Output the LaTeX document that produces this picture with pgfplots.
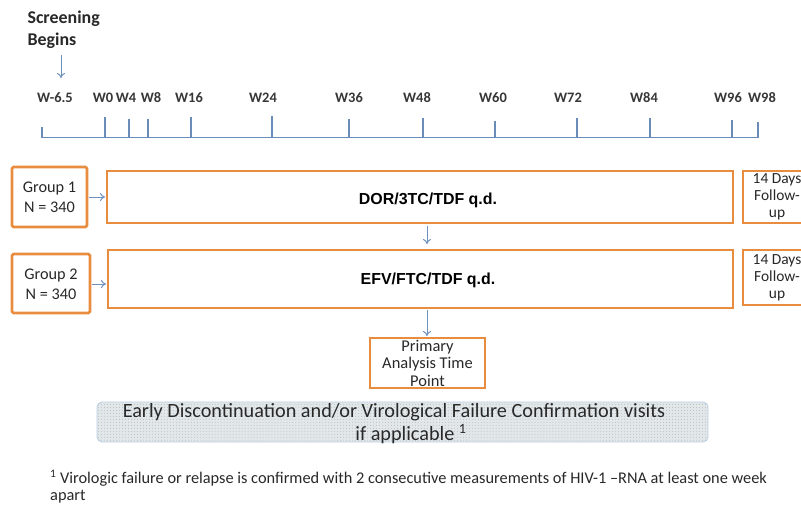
\documentclass[border=0pt]{standalone}
\usepackage{pgfplots}
\pgfplotsset{compat=1.18}
\usepackage{pgfplotstable}
\usepackage{fontspec}
\setmainfont{Carlito}
\newfontfamily\arialf{Liberation Sans}
\usetikzlibrary{arrows.meta,patterns}
\definecolor{boxor}{RGB}{232,140,64}
\definecolor{tline}{RGB}{105,140,185}
\definecolor{arr}{RGB}{110,145,190}
\definecolor{wlab}{RGB}{55,55,55}
\definecolor{txt}{RGB}{40,40,40}
\definecolor{dotfill}{RGB}{226,232,234}
\definecolor{dotedge}{RGB}{185,205,225}

% timeline ticks: x position (px), top of tick, length, label, label x
\pgfplotstableread{
x top len lab lx
42 127 10.5 W-6.5 55
105 117 20.5 W0 103
129 119 18.5 W4 126
148 119 18.5 W8 151
191 117 20.5 W16 189
272 116 21.5 W24 263
349 119 18.5 W36 349
423 118 19.5 W48 417
495 121 16.5 W60 493
577 118 19.5 W72 568
650 118 19.5 W84 644
732 120 17.5 W96 728
758 122 15.5 W98 762
}\ticks

\begin{document}
\begin{tikzpicture}
\begin{axis}[at={(0,0)}, anchor=south west,
  width=801bp, height=506bp, scale only axis,
  xmin=0, xmax=801, ymin=0, ymax=506, y dir=reverse,
  axis lines=none, clip=true]
% baseline of timeline
\addplot[tline, line width=1.4pt] coordinates {(42,137.5) (758,137.5)};
% ticks
\addplot[tline, line width=1.4pt, quiver={u=0, v=\thisrow{len}}] table[x=x, y=top] {\ticks};
% week labels
\addplot[draw=none, mark=none, nodes near coords, point meta=explicit symbolic,
  nodes near coords style={anchor=center, inner sep=0.5pt, text=wlab, font=\bfseries\fontsize{14.5}{16}\selectfont}]
  table[x=lx, y expr=98, meta=lab] {\ticks};

% screening begins
\node[anchor=west, align=left, text=txt, font=\bfseries\fontsize{18}{22}\selectfont] at (axis cs:24,30) {Screening\\Begins};
\draw[arr, line width=1pt, -{To[length=5pt,width=8pt]}] (axis cs:61,55) -- (axis cs:61,78);

% group boxes
\draw[boxor, line width=2.8pt, rounded corners=1.5pt] (axis cs:12,167) rectangle (axis cs:87,227);
\draw[boxor, line width=2.8pt, rounded corners=1.5pt] (axis cs:12,254) rectangle (axis cs:90,313);
\node[align=center, text=txt, font=\fontsize{16.3}{20}\selectfont] at (axis cs:49.5,197) {Group 1\\N = 340};
\node[align=center, text=txt, font=\fontsize{16.3}{20}\selectfont] at (axis cs:51,284) {Group 2\\N = 340};
\draw[arr, line width=1pt, -{To[length=5pt,width=8pt]}] (axis cs:89,197) -- (axis cs:105,197);
\draw[arr, line width=1pt, -{To[length=5pt,width=8pt]}] (axis cs:92,284) -- (axis cs:106,284);

% treatment boxes
\draw[boxor, line width=2.8pt] (axis cs:107,171) rectangle (axis cs:733,223);
\draw[boxor, line width=2.8pt] (axis cs:108,250) rectangle (axis cs:733,308);
\node[text=black, font=\arialf\bfseries\fontsize{16}{18}\selectfont] at (axis cs:428,200) {DOR/3TC/TDF q.d.};
\node[text=black, font=\arialf\bfseries\fontsize{16}{18}\selectfont] at (axis cs:428,280) {EFV/FTC/TDF q.d.};

% follow-up boxes (cut at right edge)
\draw[boxor, line width=2.8pt] (axis cs:743,171) rectangle (axis cs:815,223);
\draw[boxor, line width=2.8pt] (axis cs:743,250) rectangle (axis cs:815,305);
\node[align=center, text=txt, font=\fontsize{15.5}{17}\selectfont] at (axis cs:777,197) {14 Days\\Follow-\\up};
\node[align=center, text=txt, font=\fontsize{15.5}{17}\selectfont] at (axis cs:777,278) {14 Days\\Follow-\\up};

% down arrows
\draw[arr, line width=1pt, -{To[length=5pt,width=8pt]}] (axis cs:427,226) -- (axis cs:427,244);
\draw[arr, line width=1pt, -{To[length=5pt,width=8pt]}] (axis cs:427,310) -- (axis cs:427,336);

% primary analysis box
\draw[boxor, line width=2.8pt] (axis cs:370,338) rectangle (axis cs:485,388);
\node[align=center, text=txt, font=\fontsize{16.5}{17.5}\selectfont] at (axis cs:427.5,363) {Primary\\Analysis Time\\Point};

% dotted box
\path[fill=dotfill, rounded corners=5pt] (axis cs:97,402) rectangle (axis cs:708,442);
\path[pattern=dots, pattern color=gray!55, rounded corners=5pt] (axis cs:97,402) rectangle (axis cs:708,442);
\draw[dotedge, line width=0.8pt, rounded corners=5pt] (axis cs:97,402) rectangle (axis cs:708,442);
\node[inner sep=0pt, text=txt, font=\fontsize{20.3}{22}\selectfont] at (axis cs:394,412) {Early Discontinuation and/or Virological Failure Confirmation visits};
\node[inner sep=0pt, text=txt, font=\fontsize{20.3}{22}\selectfont] at (axis cs:411,434) {if applicable \textsuperscript{1}};

% footnote
\node[anchor=west, inner sep=0pt, text=txt, font=\fontsize{16.4}{18}\selectfont] at (axis cs:50,478) {\textsuperscript{1} Virologic failure or relapse is confirmed with 2 consecutive measurements of HIV-1 –RNA at least one week};
\node[anchor=west, inner sep=0pt, text=txt, font=\fontsize{16.4}{18}\selectfont] at (axis cs:50,497) {apart};
\end{axis}
\pgfresetboundingbox
\path (0,0) rectangle (801bp,506bp);
\end{tikzpicture}
\end{document}
